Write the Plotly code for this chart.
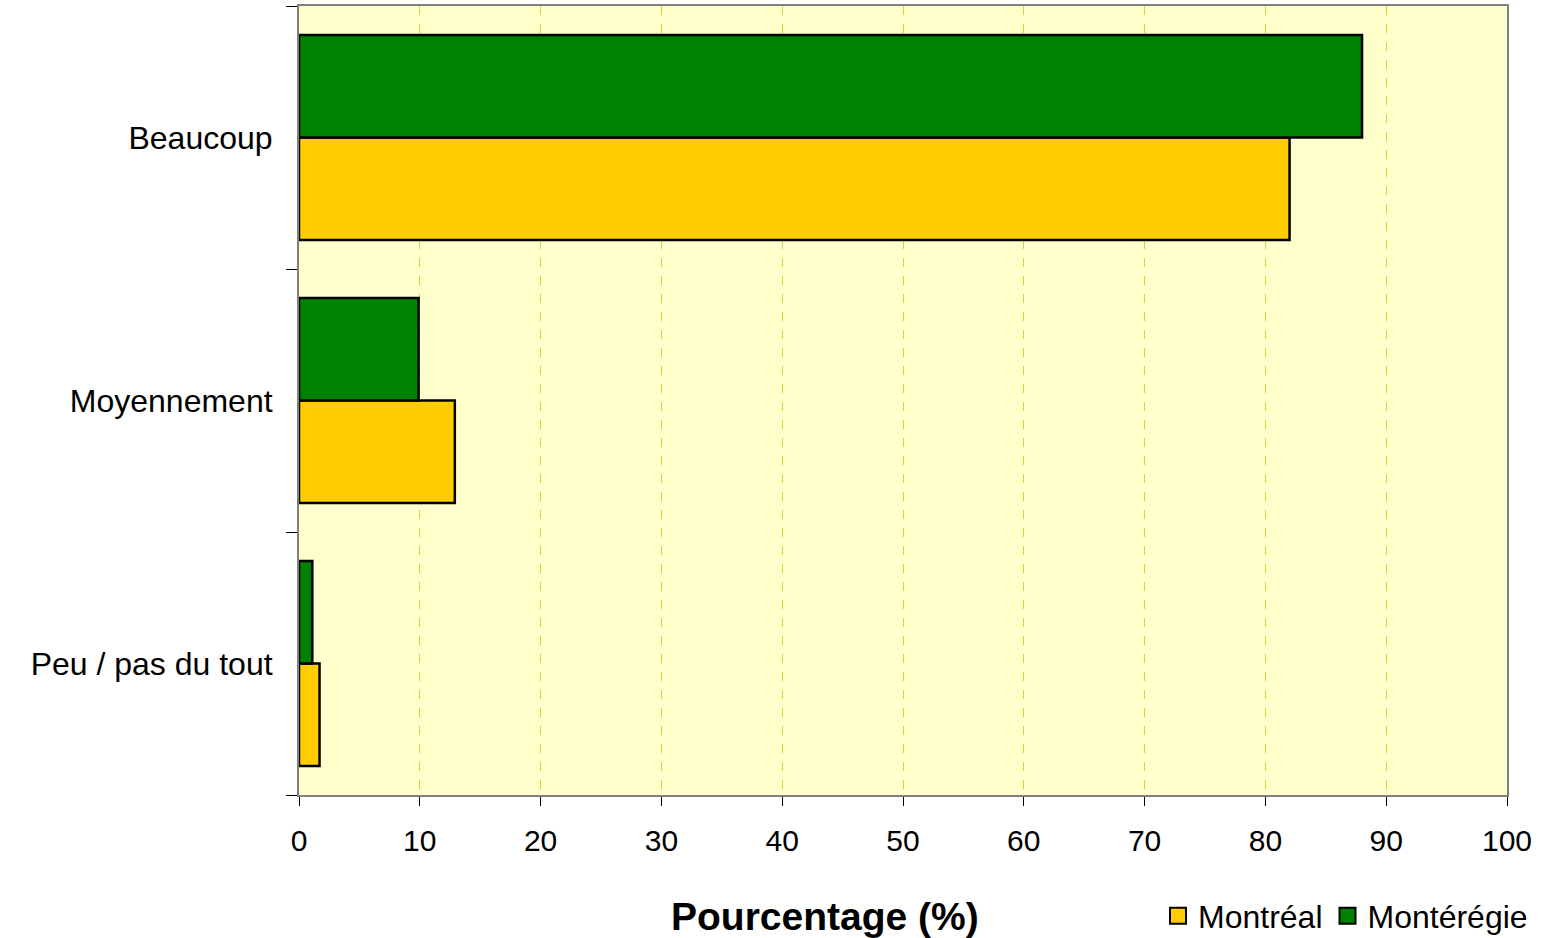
import plotly.graph_objects as go

# Response categories (bottom to top on the chart)
categories = ["Peu / pas du tout", "Moyennement", "Beaucoup"]

# Percentages by region
montreal = [1.7, 12.9, 82.0]
monteregie = [1.1, 9.9, 88.0]

x_ticks = [0, 10, 20, 30, 40, 50, 60, 70, 80, 90, 100]

series = [
    ("Montréal", montreal, "#FFCC00"),
    ("Montérégie", monteregie, "#008000"),
]

W, H = 1545, 938
M_L, M_R, M_T, M_B = 299, 38, 6, 143
plot_w = W - M_L - M_R
plot_h = H - M_T - M_B

FONT = "Liberation Sans, Arial, sans-serif"

fig = go.Figure()
for name, values, color in series:
    fig.add_trace(go.Bar(
        y=categories, x=values, name=name, orientation="h",
        marker=dict(color=color, line=dict(color="#000000", width=2.5)),
        showlegend=False,
    ))
# Legend keys: square swatches with a black outline
for name, values, color in series:
    fig.add_trace(go.Scatter(
        x=[None], y=[None], name=name, mode="markers",
        marker=dict(symbol="square", size=19, color=color,
                    line=dict(color="#000000", width=2)),
        showlegend=True,
    ))


def px_x(px):
    return (px - M_L) / plot_w


def px_y(py):
    return (H - M_B - py) / plot_h


fig.add_annotation(
    text="<b>Pourcentage (%)</b>", xref="paper", yref="paper",
    x=px_x(825), y=px_y(916), xanchor="center", yanchor="middle",
    showarrow=False, font=dict(family=FONT, size=39, color="#000000"),
)

fig.update_layout(
    width=W, height=H,
    margin=dict(l=M_L, r=M_R, t=M_T, b=M_B, pad=0, autoexpand=False),
    paper_bgcolor="#FFFFFF",
    plot_bgcolor="#FFFFCC",
    barmode="group",
    bargap=0.22,
    bargroupgap=0,
    font=dict(family=FONT, size=30, color="#000000"),
    showlegend=True,
    legend=dict(
        orientation="h", xref="paper", yref="paper",
        x=px_x(1533), y=px_y(916), xanchor="right", yanchor="middle",
        font=dict(family=FONT, size=32, color="#000000"),
        itemwidth=30, tracegroupgap=0, bgcolor="rgba(0,0,0,0)",
    ),
    xaxis=dict(
        range=[0, 100], tickvals=x_ticks, ticktext=[str(v) for v in x_ticks],
        showgrid=True, gridcolor="#C4DC3A", gridwidth=1, griddash="dash",
        zeroline=False, automargin=False,
        showline=True, linecolor="#808080", linewidth=2, mirror=True,
        ticks="outside", ticklen=9, tickcolor="#000000", tickwidth=1,
        ticklabelstandoff=9,
        tickfont=dict(family=FONT, size=30, color="#000000"),
    ),
    yaxis=dict(
        type="category", categoryorder="array", categoryarray=categories,
        range=[-0.5, 2.5],
        tickson="boundaries",
        showgrid=False, zeroline=False, automargin=False,
        showline=True, linecolor="#808080", linewidth=2, mirror=True,
        ticks="outside", ticklen=11, tickcolor="#000000", tickwidth=1,
        ticklabelstandoff=18,
        tickfont=dict(family=FONT, size=32, color="#000000"),
    ),
)

fig.write_html("out.html")
